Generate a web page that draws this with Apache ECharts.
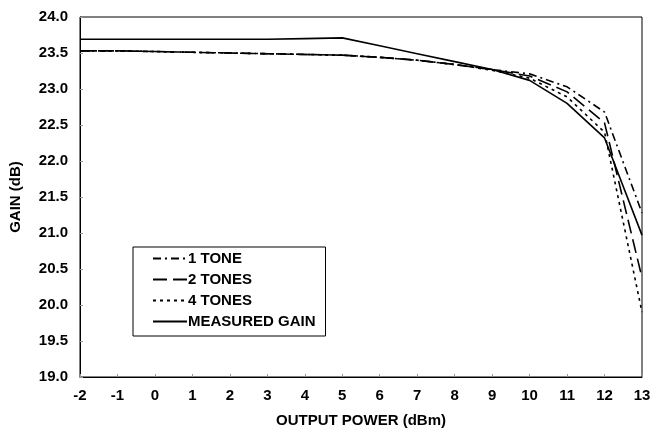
<!DOCTYPE html>
<html>
<head>
<meta charset="utf-8">
<script src="https://cdn.jsdelivr.net/npm/echarts@6/dist/echarts.min.js"></script>
<style>
  html, body { margin: 0; padding: 0; background: #fff; }
  #chart { width: 660px; height: 434px; }
</style>
</head>
<body>
<div id="chart"></div>
<script>
// output power, dBm
var power = [-2, -1, 0, 1, 2, 3, 4, 5, 6, 7, 8, 9, 10, 11, 12, 13]

var oneTone = [23.53, 23.53, 23.52, 23.51, 23.5, 23.49, 23.48, 23.47, 23.44, 23.4, 23.34, 23.27, 23.21, 23.03, 22.68, 21.28]
var twoTones = [23.53, 23.53, 23.52, 23.51, 23.5, 23.49, 23.48, 23.47, 23.44, 23.4, 23.34, 23.27, 23.18, 22.96, 22.53, 20.38]
var fourTones = [23.53, 23.53, 23.52, 23.51, 23.5, 23.49, 23.48, 23.47, 23.44, 23.4, 23.34, 23.26, 23.15, 22.89, 22.4, 19.9]
var measured = [23.69, 23.69, 23.69, 23.69, 23.69, 23.69, 23.7, 23.71, 23.6, 23.49, 23.38, 23.27, 23.12, 22.8, 22.32, 20.97]

var names = ['1 TONE', '2 TONES', '4 TONES', 'MEASURED GAIN']

var font = 'Liberation Sans, Arial, sans-serif'

function pairs(vals) {
  return power.map(function (p, i) { return [p, vals[i]] })
}

function line(name, vals, type) {
  return {
    name: name,
    type: 'line',
    data: pairs(vals),
    symbol: 'none',
    animation: false,
    lineStyle: { color: '#000', width: 1.6, type: type },
    itemStyle: { color: '#000' }
  }
}

var chart = echarts.init(document.getElementById('chart'))
chart.setOption({
  backgroundColor: '#fff',
  grid: {
    left: 79,
    right: 18,
    top: 17,
    bottom: 57,
    show: true,
    borderColor: '#000',
    borderWidth: 1
  },
  legend: {
    orient: 'vertical',
    left: 133,
    top: 247,
    padding: [4, 10, 7, 19],
    itemWidth: 34,
    itemHeight: 15,
    itemGap: 6,
    borderColor: '#000',
    borderWidth: 1,
    backgroundColor: '#fff',
    itemStyle: { opacity: 0 },
    data: names,
    textStyle: { color: '#000', fontWeight: 'bold', fontSize: 15, fontFamily: font, padding: [0, 0, 0, -4] }
  },
  xAxis: {
    type: 'value',
    min: -2,
    max: 13,
    interval: 1,
    name: 'OUTPUT POWER (dBm)',
    nameLocation: 'middle',
    nameGap: 36,
    nameTextStyle: { color: '#000', fontWeight: 'bold', fontSize: 15, fontFamily: font },
    axisLine: { onZero: false, lineStyle: { color: '#000' } },
    axisTick: { inside: true, length: 3, lineStyle: { color: '#999' } },
    axisLabel: { color: '#000', fontWeight: 'bold', fontSize: 15, fontFamily: font, margin: 11 },
    splitLine: { show: false }
  },
  yAxis: {
    type: 'value',
    min: 19,
    max: 24,
    interval: 0.5,
    name: 'GAIN (dB)',
    nameLocation: 'middle',
    nameGap: 57,
    nameTextStyle: { color: '#000', fontWeight: 'bold', fontSize: 15, fontFamily: font },
    axisLine: { onZero: false, lineStyle: { color: '#000' } },
    axisTick: { inside: true, length: 3, lineStyle: { color: '#999' } },
    axisLabel: {
      color: '#000', fontWeight: 'bold', fontSize: 15, fontFamily: font, margin: 12,
      formatter: function (v) { return v.toFixed(1) }
    },
    splitLine: { show: false }
  },
  series: [
    line(names[0], oneTone, [8, 4, 2, 4]),
    line(names[1], twoTones, [14, 6]),
    line(names[2], fourTones, [3, 4]),
    line(names[3], measured, 'solid')
  ]
})
</script>
</body>
</html>
